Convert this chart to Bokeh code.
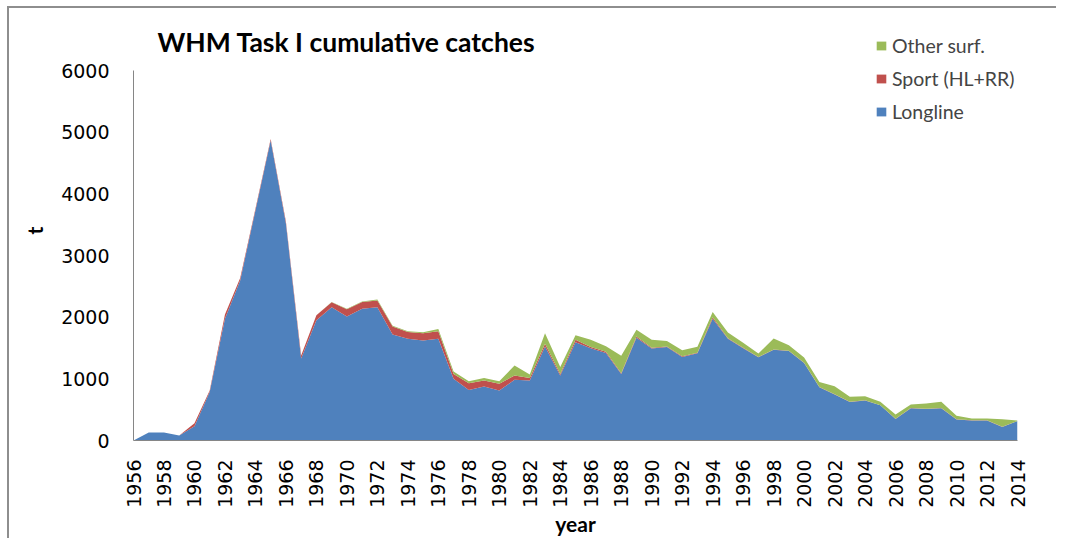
from bokeh.plotting import figure
from bokeh.models import ColumnDataSource, Range1d, FixedTicker, Legend, LegendItem, Label, InlineStyleSheet
from bokeh.embed import file_html
from bokeh.resources import INLINE

years = list(range(1956, 2015))
longline = [0, 130, 130, 80, 230, 785, 1975, 2595, 3730, 4865,
            3520, 1330, 1950, 2160, 2010, 2135, 2160, 1720, 1650, 1620,
            1650, 1000, 820, 875, 810, 985, 975, 1525, 1055, 1595,
            1495, 1420, 1080, 1665, 1490, 1515, 1355, 1415, 1975, 1650,
            1495, 1350, 1470, 1450, 1255, 865, 745, 625, 650, 570,
            350, 525, 510, 525, 340, 325, 325, 220, 315]
sport = [0, 0, 0, 0, 50, 25, 70, 40, 30, 25,
         30, 50, 80, 80, 120, 110, 110, 130, 110, 120,
         120, 80, 110, 100, 110, 70, 40, 45, 25, 40,
         20, 20, 10, 20, 15, 10, 10, 10, 25, 10,
         10, 5, 5, 5, 5, 3, 3, 3, 3, 3,
         3, 3, 3, 3, 3, 3, 3, 3, 3]
other = [0, 0, 0, 0, 0, 0, 0, 0, 0, 0,
         0, 0, 0, 5, 5, 10, 15, 10, 10, 15,
         40, 40, 30, 40, 40, 160, 55, 170, 110, 70,
         120, 90, 285, 110, 130, 90, 100, 95, 85, 90,
         80, 55, 180, 90, 85, 80, 130, 80, 65, 55,
         70, 55, 85, 100, 60, 30, 30, 120, 8]
series_names = ["Longline", "Sport (HL+RR)", "Other surf."]
colors = ["#4F81BD", "#C0504D", "#9BBB59"]
y_ticks = [0, 1000, 2000, 3000, 4000, 5000, 6000]
x_ticks = list(range(1956, 2015, 2))

src = ColumnDataSource(dict(year=years, longline=longline, sport=sport, other=other))

# chart-area border (only top and left edges are visible in the reference)
border_css = InlineStyleSheet(css="""
:host::before {
  content: "";
  position: absolute;
  left: 7px;
  top: 6px;
  width: calc(100% - 7px);
  height: 2px;
  background: #8e8e8e;
  border: none;
  z-index: 5;
  pointer-events: none;
}
:host::after {
  content: "";
  position: absolute;
  left: 7px;
  top: 6px;
  width: 2px;
  height: calc(100% - 6px);
  background: #8e8e8e;
  border: none;
  z-index: 5;
  pointer-events: none;
}
""")

# frame extended above 6000 so that title and legend are inside the frame
p = figure(width=1056, height=538, output_backend="svg", toolbar_location=None,
           x_range=Range1d(1956, 2014), y_range=Range1d(0, 6000 * 420 / 370),
           min_border_left=133, min_border_right=39, min_border_top=20, min_border_bottom=98)
p.stylesheets = [border_css]
p.outline_line_color = None
p.grid.visible = False

rs = p.varea_stack(stackers=["longline", "sport", "other"], x="year", color=colors, source=src)

for ax in (p.xaxis[0], p.yaxis[0]):
    ax.axis_line_color = "#868686"
    ax.major_tick_line_color = None
    ax.minor_tick_line_color = None
    ax.major_label_text_font = "DejaVu Sans"
    ax.major_label_text_font_size = "19px"
    ax.major_label_text_color = "black"
    ax.axis_label_text_font = "Lato"
    ax.axis_label_text_font_style = "bold"
    ax.axis_label_text_font_size = "21px"
    ax.axis_label_text_color = "black"

p.xaxis.ticker = FixedTicker(ticks=x_ticks)
p.xaxis.major_label_orientation = 3.14159265 / 2
p.xaxis.major_label_standoff = 13
p.xaxis.axis_label = "year"
p.xaxis.axis_label_standoff = 0

p.yaxis.ticker = FixedTicker(ticks=y_ticks)
p.yaxis.bounds = (0, 6000)
p.yaxis.major_label_standoff = 18
p.yaxis.axis_label = "t"
p.yaxis.axis_label_standoff = 11

legend = Legend(items=[LegendItem(label=series_names[2], renderers=[rs[2]]),
                       LegendItem(label=series_names[1], renderers=[rs[1]]),
                       LegendItem(label=series_names[0], renderers=[rs[0]])],
                location=(742, 317), orientation="vertical",
                border_line_alpha=0, background_fill_alpha=0,
                padding=0, margin=0, spacing=10, label_height=22,
                glyph_height=11, glyph_width=12, label_standoff=5,
                label_text_font="Lato", label_text_font_size="19.5px")
p.add_layout(legend)

title = Label(x=24, y=399, x_units="screen", y_units="screen",
              text="WHM Task I cumulative catches", text_font="Lato",
              text_font_style="bold", text_font_size="26.5px",
              text_baseline="middle", text_align="left", text_color="black")
p.add_layout(title)

open("out.html", "w").write(file_html(p, INLINE))
